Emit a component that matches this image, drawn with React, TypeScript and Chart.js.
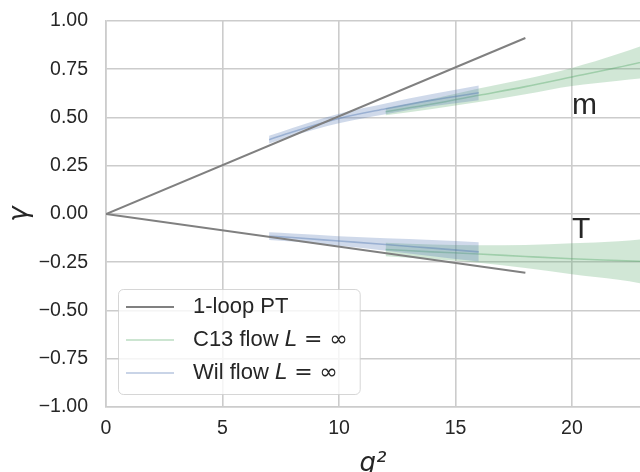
import React, { useEffect, useRef } from 'react';
import { Chart, registerables } from 'chart.js';

Chart.register(...registerables);

// ---------- data ----------
const xTicks = [0, 5, 10, 15, 20];
const yTicks = [-1, -0.75, -0.5, -0.25, 0, 0.25, 0.5, 0.75, 1];
const xMin = 0;
const xMax = 22.92;
const yMin = -1;
const yMax = 1;

// 1-loop perturbation theory
const ptX = [0, 18];
const ptM = [0, 0.912];
const ptT = [0, -0.305];

// C13 flow, L = inf
const c13X = [12, 14, 16, 18, 20, 22, 24];
const c13M = [0.53, 0.57, 0.615, 0.66, 0.71, 0.76, 0.815];
const c13MErr = [0.018, 0.026, 0.035, 0.04, 0.047, 0.07, 0.1];
const c13T = [-0.184, -0.196, -0.207, -0.22, -0.232, -0.241, -0.25];
const c13TErr = [0.035, 0.038, 0.045, 0.06, 0.08, 0.1, 0.13];

// Wil flow, L = inf
const wilX = [7, 8, 10, 12, 14, 16];
const wilM = [0.385, 0.425, 0.495, 0.545, 0.59, 0.628];
const wilMErr = [0.02, 0.021, 0.025, 0.028, 0.032, 0.038];
const wilT = [-0.115, -0.122, -0.14, -0.158, -0.177, -0.196];
const wilTErr = [0.02, 0.021, 0.025, 0.032, 0.042, 0.05];

// annotations
const annText = ['m', 'T'];
const annX = [20, 20];
const annY = [0.52, -0.123];

// legend
type Seg = { t: string; italic?: boolean; math?: boolean };
const legendEntries: Seg[][] = [
  [{ t: '1-loop PT' }],
  [{ t: 'C13 flow ' }, { t: 'L', italic: true, math: true }, { t: ' = \u221e', math: true }],
  [{ t: 'Wil flow ' }, { t: 'L', italic: true, math: true }, { t: ' = \u221e', math: true }],
];

// ---------- styles ----------
const SANS = '"Liberation Sans", Arial, "DejaVu Sans", sans-serif';
const MATH = '"DejaVu Sans", sans-serif';
const TEXT = '#262626';
const GRID = '#cccccc';
const GRAY = '#808080';
const GREEN_FILL = 'rgba(85,168,104,0.27)';
const GREEN_LINE = 'rgba(85,168,104,0.4)';
const BLUE_FILL = 'rgba(76,114,176,0.27)';
const BLUE_LINE = 'rgba(76,114,176,0.4)';
const legendColors = [GRAY, 'rgba(85,168,104,0.3)', 'rgba(76,114,176,0.3)'];

const pts = (xs: number[], ys: number[]) => xs.map((x, i) => ({ x, y: ys[i] }));
const shift = (ys: number[], es: number[], s: number) => ys.map((v, i) => v + s * es[i]);

function band(xs: number[], ys: number[], es: number[], fillColor: string, lineColor: string, baseOrder: number) {
  return [
    {
      data: pts(xs, shift(ys, es, -1)),
      borderWidth: 0,
      borderColor: 'rgba(0,0,0,0)',
      pointRadius: 0,
      fill: false,
      cubicInterpolationMode: 'monotone',
      order: baseOrder + 2,
    },
    {
      data: pts(xs, shift(ys, es, 1)),
      borderWidth: 0,
      borderColor: 'rgba(0,0,0,0)',
      backgroundColor: fillColor,
      pointRadius: 0,
      fill: '-1',
      cubicInterpolationMode: 'monotone',
      order: baseOrder + 1,
    },
    {
      data: pts(xs, ys),
      borderWidth: 1.6,
      borderColor: lineColor,
      pointRadius: 0,
      fill: false,
      cubicInterpolationMode: 'monotone',
      order: baseOrder,
    },
  ];
}

const overlayPlugin = {
  id: 'overlay',
  afterDraw(chart: any) {
    const { ctx, chartArea, scales } = chart;
    ctx.save();
    // annotations
    ctx.fillStyle = TEXT;
    ctx.font = `30px ${SANS}`;
    ctx.textAlign = 'left';
    ctx.textBaseline = 'alphabetic';
    annText.forEach((t, i) => {
      ctx.fillText(t, scales.x.getPixelForValue(annX[i]), scales.y.getPixelForValue(annY[i]));
    });

    // legend
    const fs = 22;
    const fontFor = (s: Seg) =>
      s.math ? `${s.italic ? 'italic ' : ''}${fs}px ${MATH}` : `${fs}px ${SANS}`;
    let maxW = 0;
    legendEntries.forEach((segs) => {
      let w = 0;
      segs.forEach((s) => {
        ctx.font = fontFor(s);
        w += ctx.measureText(s.t).width;
      });
      maxW = Math.max(maxW, w);
    });
    const rowH = 33;
    const boxX = chartArea.left + 12;
    const boxH = 105;
    const boxY = chartArea.bottom - 13 - boxH;
    const textX = boxX + 75;
    const boxW = 75 + maxW + 12;
    ctx.beginPath();
    (ctx as any).roundRect(boxX + 0.5, boxY + 0.5, boxW, boxH, 5);
    ctx.fillStyle = 'rgba(255,255,255,0.8)';
    ctx.fill();
    ctx.strokeStyle = 'rgba(204,204,204,0.8)';
    ctx.lineWidth = 1;
    ctx.stroke();

    legendEntries.forEach((segs, i) => {
      const cy = boxY + 18 + i * rowH;
      ctx.beginPath();
      ctx.moveTo(boxX + 8, cy);
      ctx.lineTo(boxX + 56, cy);
      ctx.strokeStyle = legendColors[i];
      ctx.lineWidth = 2;
      ctx.stroke();
      let x = textX;
      ctx.fillStyle = TEXT;
      ctx.textBaseline = 'middle';
      segs.forEach((s) => {
        ctx.font = fontFor(s);
        ctx.fillText(s.t, x, cy);
        x += ctx.measureText(s.t).width;
      });
    });
    ctx.restore();
  },
};

export default function App() {
  const ref = useRef<HTMLCanvasElement | null>(null);

  useEffect(() => {
    if (!ref.current) return;
    const datasets: any[] = [
      { data: pts(ptX, ptM), borderColor: GRAY, borderWidth: 2, pointRadius: 0, fill: false, order: 0 },
      { data: pts(ptX, ptT), borderColor: GRAY, borderWidth: 2, pointRadius: 0, fill: false, order: 0 },
      ...band(c13X, c13M, c13MErr, GREEN_FILL, GREEN_LINE, 10),
      ...band(c13X, c13T, c13TErr, GREEN_FILL, GREEN_LINE, 10),
      ...band(wilX, wilM, wilMErr, BLUE_FILL, BLUE_LINE, 4),
      ...band(wilX, wilT, wilTErr, BLUE_FILL, BLUE_LINE, 4),
    ];
    const chart = new Chart(ref.current, {
      type: 'line',
      data: { datasets },
      options: {
        animation: false,
        responsive: false,
        maintainAspectRatio: false,
        events: [],
        layout: { autoPadding: false, padding: { top: 21, right: 0, bottom: 0, left: 0 } },
        plugins: { legend: { display: false }, tooltip: { enabled: false } },
        scales: {
          x: {
            type: 'linear',
            min: xMin,
            max: xMax,
            afterBuildTicks: (s: any) => {
              s.ticks = xTicks.map((v) => ({ value: v }));
            },
            afterFit: (s: any) => {
              s.height = 65;
            },
            grid: { color: GRID, lineWidth: 1.6, drawTicks: true, tickLength: 10, tickColor: 'rgba(0,0,0,0)' },
            border: { color: GRID, width: 1.6 },
            ticks: {
              color: TEXT,
              padding: 0,
              maxRotation: 0,
              font: { family: SANS, size: 19.5 },
              callback: (v: any) => String(v),
            },
            title: {
              display: true,
              text: 'g\u00b2',
              color: TEXT,
              font: { family: MATH, style: 'italic', size: 26 },
              padding: { top: 0, bottom: -8 },
            },
          },
          y: {
            type: 'linear',
            min: yMin,
            max: yMax,
            afterBuildTicks: (s: any) => {
              s.ticks = yTicks.map((v) => ({ value: v }));
            },
            afterFit: (s: any) => {
              s.width = 106;
            },
            grid: { color: GRID, lineWidth: 1.6, drawTicks: true, tickLength: 18, tickColor: 'rgba(0,0,0,0)' },
            border: { color: GRID, width: 1.6 },
            ticks: {
              color: TEXT,
              padding: 0,
              font: { family: SANS, size: 19.5 },
              callback: (v: any) => Number(v).toFixed(2).replace('-', '\u2212'),
            },
            title: {
              display: true,
              text: '\u03b3',
              color: TEXT,
              font: { family: MATH, style: 'italic', size: 26 },
              padding: { top: 5, bottom: 0 },
            },
          },
        },
      } as any,
      plugins: [overlayPlugin],
    });
    return () => chart.destroy();
  }, []);

  return (
    <div style={{ position: 'absolute', left: 0, top: 0, width: 640, height: 472, background: '#fff' }}>
      <canvas ref={ref} width={640} height={472} style={{ width: 640, height: 472, display: 'block' }} />
    </div>
  );
}
